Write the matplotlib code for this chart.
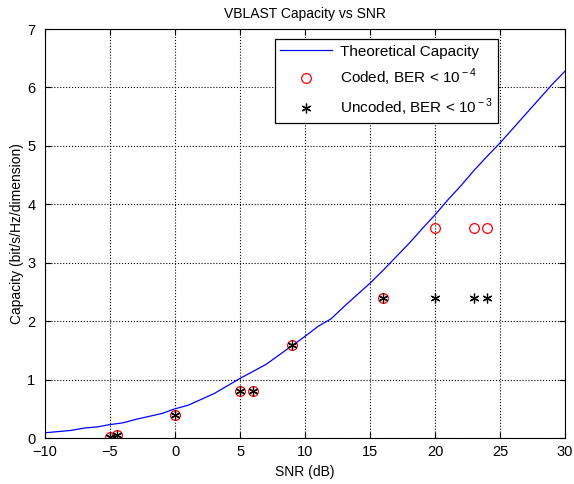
import matplotlib.pyplot as plt
import numpy as np

plt.rcParams['font.family'] = ['Liberation Sans', 'DejaVu Sans']
plt.rcParams['mathtext.fontset'] = 'custom'
plt.rcParams['mathtext.rm'] = 'Liberation Sans'

# theoretical capacity curve (1 dB steps)
snr_theory = list(range(-10, 31))
cap_theory = [0.09, 0.11, 0.13, 0.17, 0.19, 0.23, 0.26, 0.32, 0.37, 0.42,
              0.50, 0.56, 0.66, 0.76, 0.89, 1.02, 1.14, 1.26, 1.42, 1.58,
              1.74, 1.91, 2.04, 2.25, 2.45, 2.65, 2.87, 3.10, 3.33, 3.58,
              3.82, 4.08, 4.32, 4.58, 4.82, 5.05, 5.30, 5.55, 5.80, 6.05,
              6.28]

# measured points
snr_pts = [-5, -4.5, 0, 5, 6, 9, 16, 20, 23, 24]
cap_coded = [0.025, 0.05, 0.4, 0.8, 0.8, 1.6, 2.4, 3.6, 3.6, 3.6]
cap_uncoded = [0.025, 0.05, 0.4, 0.8, 0.8, 1.6, 2.4, 2.4, 2.4, 2.4]

fig = plt.figure(figsize=(5.74, 4.84), dpi=100)
ax = fig.add_axes([0.0784, 0.095, 0.906, 0.845])

ax.plot(snr_theory, cap_theory, color='blue', linewidth=0.9, label='Theoretical Capacity')
ax.plot(snr_pts, cap_coded, linestyle='none', marker='o', markersize=7,
        markerfacecolor='none', markeredgecolor='red', markeredgewidth=0.9,
        label=r'Coded, BER < 10$^{\rm -4}$')
ax.plot(snr_pts, cap_uncoded, linestyle='none', marker=(6, 2, 0), markersize=7,
        color='black', markeredgewidth=0.9, label=r'Uncoded, BER < 10$^{\rm -3}$')

ax.set_xlim(-10, 30)
ax.set_ylim(0, 7)
ax.set_xticks(range(-10, 31, 5))
ax.set_yticks(range(0, 8))
ax.tick_params(direction='in', top=True, right=True, labelsize=10.5, length=4)
ax.tick_params(axis='y', pad=7)
ax.tick_params(axis='x', pad=5)
ax.grid(True, linestyle=':', color='black', linewidth=0.8)
for s in ax.spines.values():
    s.set_linewidth(0.8)

ax.set_title('VBLAST Capacity vs SNR', fontsize=10, pad=8)
ax.set_xlabel('SNR (dB)', fontsize=10)
ax.set_ylabel('Capacity (bit/s/Hz/dimension)', fontsize=10, labelpad=2)

leg = ax.legend(loc='upper left', bbox_to_anchor=(0.442, 0.975), fontsize=11,
                fancybox=False, edgecolor='black', framealpha=1,
                handlelength=3.4, handletextpad=0.5, labelspacing=0.55,
                borderpad=0.35, borderaxespad=0)
leg.get_frame().set_linewidth(0.9)

fig.savefig('out.png', dpi=100)
